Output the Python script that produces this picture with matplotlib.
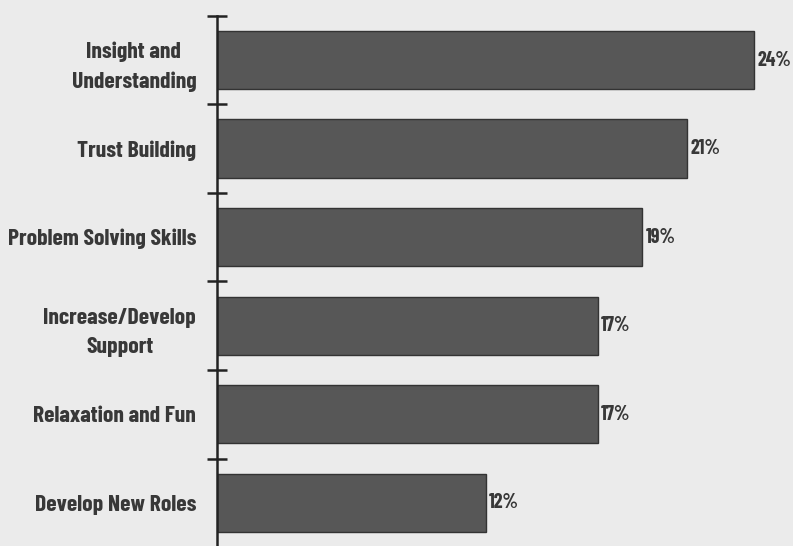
import matplotlib
matplotlib.use("Agg")
import matplotlib.pyplot as plt
import numpy as np

categories = [
    "Insight and\nUnderstanding",
    "Trust Building",
    "Problem Solving Skills",
    "Increase/Develop\nSupport",
    "Relaxation and Fun",
    "Develop New Roles",
]
values = [24, 21, 19, 17, 17, 12]
value_labels = ["24%", "21%", "19%", "17%", "17%", "12%"]

BG = "#ebebeb"
BAR = "#575757"
EDGE = "#333333"
TEXT = "#383838"
FONT = ["Barlow Condensed", "DejaVu Sans"]

fig = plt.figure(figsize=(7.93, 5.46), dpi=100, facecolor=BG)
ax = fig.add_axes([0.2736, -0.002, 0.72, 0.973])
ax.set_facecolor(BG)

y = np.arange(len(categories))
ax.barh(y, values, height=0.66, color=BAR, edgecolor=EDGE, linewidth=1.0, zorder=2)

for yi, v, lab in zip(y, values, value_labels):
    ax.text(v + 0.15, yi, lab, va="center", ha="left", fontsize=14.5,
            fontweight="bold", color=TEXT, family=FONT)

ax.set_xlim(0, 25.5)
ax.set_ylim(len(categories) - 0.5, -0.5)

ax.set_yticks(y)
ax.set_yticklabels(categories, fontsize=17, fontweight="bold", color=TEXT,
                   family=FONT, linespacing=1.55)
ax.tick_params(axis="y", length=0, pad=15)
for t in ax.get_yticklabels():
    t.set_horizontalalignment("right")
    t.set_multialignment("center")

# boundary ticks crossing the axis
ax.set_yticks(np.arange(len(categories) + 1) - 0.5, minor=True)
ax.tick_params(axis="y", which="minor", direction="inout", length=14, width=1.8, color="#222222")
ax.set_xticks([])

for s in ("top", "right", "bottom"):
    ax.spines[s].set_visible(False)
ax.spines["left"].set_linewidth(1.8)
ax.spines["left"].set_color("#222222")

fig.savefig("out.png", dpi=100, facecolor=BG)
